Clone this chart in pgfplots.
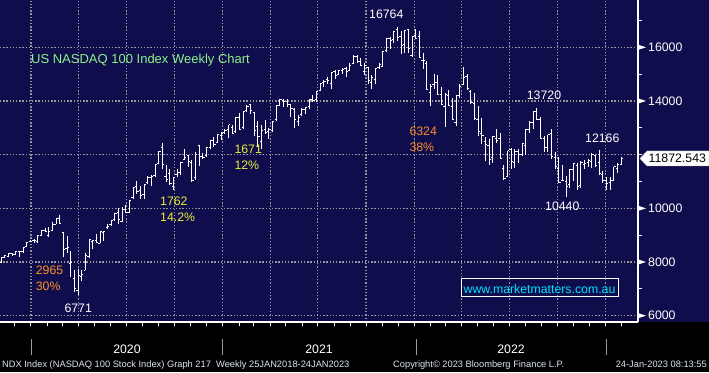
\documentclass[border=0pt]{standalone}
\usepackage{pgfplots}
\pgfplotsset{compat=1.18}
\usepackage{pgfplotstable}
\usepackage{fontspec}
\setmainfont{Liberation Sans}
\definecolor{bgnavy}{RGB}{15,13,75}
\definecolor{gridgray}{RGB}{150,150,155}
\definecolor{anngreen}{RGB}{140,240,140}
\definecolor{annorange}{RGB}{255,140,40}
\definecolor{annyellow}{RGB}{235,240,60}
\definecolor{anncyan}{RGB}{0,225,255}
\definecolor{foottext}{RGB}{220,228,240}
\newcommand\lblfont{\fontsize{12.3pt}{14pt}\selectfont}
\newcommand\titlefont{\fontsize{13pt}{15pt}\selectfont}
\newcommand\footfont{\fontsize{9.3pt}{11pt}\selectfont}
\pgfdeclareplotmark{otick}{\pgfpathmoveto{\pgfqpoint{-1.7pt}{0pt}}\pgfpathlineto{\pgfqpoint{0pt}{0pt}}\pgfusepathqstroke}
\pgfdeclareplotmark{ctick}{\pgfpathmoveto{\pgfqpoint{0pt}{0pt}}\pgfpathlineto{\pgfqpoint{1.7pt}{0pt}}\pgfusepathqstroke}
\pgfplotstableread{
i o h l c
-9 7980 8170 7950 8161
-8 8170 8260 8150 8228
-7 8210 8320 8190 8320
-6 8320 8345 8230 8273
-5 8290 8410 8280 8403
-4 8400 8420 8170 8399
-3 8390 8560 8350 8535
-2 8580 8740 8570 8730
-1 8750 8810 8740 8778
0 8790 8870 8700 8793
1 8750 8990 8710 8980
2 8990 9174 8970 9174
3 9190 9280 9100 9152
4 9000 9300 8950 9151
5 9160 9480 9140 9401
6 9410 9640 9400 9623
7 9620 9737 9420 9446
8 9100 9110 8200 8461
9 8500 8985 8330 8530
10 7960 8400 7430 7995
11 7400 7700 6900 7003
12 6950 7750 6771 7502
13 7450 7700 7300 7528
14 7700 8340 7690 8233
15 8200 8840 8150 8832
16 8780 8820 8490 8784
17 8800 9060 8700 8718
18 8700 9130 8690 9121
19 9100 9160 8800 9152
20 9300 9400 9230 9325
21 9400 9560 9360 9555
22 9570 9830 9530 9824
23 9830 10000 9420 9588
24 9520 10060 9500 9946
25 9950 10120 9840 9849
26 9860 10320 9840 10279
27 10420 10770 10350 10764
28 10800 11000 10520 10643
29 10680 10840 10350 10461
30 10500 10920 10330 10905
31 10950 11200 10900 11139
32 11150 11250 10840 11178
33 11230 11630 11180 11620
34 11660 12130 11650 12111
35 12250 12439 11450 11622
36 11200 11630 10980 11087
37 11300 11450 10880 10939
38 10800 11160 10677 11147
39 11250 11450 11150 11318
40 11350 11720 11250 11718
41 11820 12200 11790 11883
42 11950 12000 11550 11744
43 11720 11800 10990 11052
44 11150 12100 11060 12016
45 12350 12350 11580 11937
46 11940 12080 11830 11891
47 11950 12270 11920 12258
48 12280 12530 12200 12529
49 12530 12650 12300 12378
50 12440 12760 12420 12755
51 12700 12840 12560 12805
52 12840 12950 12760 12888
53 12920 13110 12620 13105
54 13000 13110 12780 12804
55 12880 13400 12820 13366
56 13400 13550 12900 12925
57 13000 13620 12960 13612
58 13640 13850 13600 13807
59 13850 13879 13500 13635
60 13560 13600 12700 12909
61 13050 13250 12300 12668
62 12500 13100 12208 12899
63 12950 13300 12780 12835
64 12850 13000 12600 12930
65 12900 13260 12850 13247
66 13300 13850 13270 13845
67 13830 14060 13800 14041
68 14000 14060 13770 13963
69 13980 14070 13780 13860
70 13860 13870 13400 13720
71 13700 13720 12980 13300
72 13250 13490 13080 13400
73 13500 13720 13450 13687
74 13700 13780 13520 13773
75 13780 14080 13700 14069
76 14060 14230 13960 14030
77 14050 14390 13960 14360
78 14380 14650 14370 14640
79 14680 14770 14530 14732
80 14800 14890 14650 14750
81 14650 15080 14440 15079
82 15100 15150 14820 14959
83 14990 15140 14950 15130
84 15150 15210 15020 15170
85 15200 15250 14890 15100
86 15150 15400 15130 15340
87 15380 15700 15370 15653
88 15660 15700 15400 15454
89 15480 15600 15300 15334
90 15100 15420 14950 15307
91 15250 15280 14620 14776
92 14700 14960 14450 14867
93 14800 15200 14620 15198
94 15250 15400 15200 15348
95 15300 15850 15300 15850
96 15870 16360 15830 16318
97 16330 16390 15950 16252
98 16280 16600 16150 16574
99 16650 16764 16250 16347
100 16400 16600 15750 16085
101 16100 16660 15800 16630
102 16650 16700 15800 15961
103 15700 16420 15630 16416
104 16450 16700 16300 16320
105 16400 16600 15600 15613
106 15500 15800 15200 15500
107 15400 15500 14420 14438
108 14300 14640 13800 14553
109 14600 15000 14450 14680
110 14700 14950 14230 14253
111 14250 14520 13850 13870
112 13800 14300 13020 14234
113 14200 14400 13800 13838
114 13800 14100 13300 13301
115 13200 14220 13050 14204
116 14200 14650 14100 14550
117 14600 15265 14600 14862
118 14900 15000 14400 14447
119 14350 14400 13900 13950
120 13900 14300 13300 13333
121 13300 13800 12700 12854
122 12800 13370 12400 12721
123 12500 12650 11750 12387
124 12350 12600 11600 11835
125 11900 12690 11700 12681
126 12600 12950 12450 12543
127 12600 12800 11840 11840
128 11500 11600 11040 11128
129 11200 12150 11150 12141
130 12200 12250 11450 11750
131 11700 12200 11500 12100
132 12100 12200 11700 12000
133 12000 12450 11950 12400
134 12350 12950 12000 12947
135 12950 13250 12800 13200
136 13200 13600 12950 13600
137 13620 13720 13300 13300
138 13300 13400 12600 12600
139 12600 12700 12100 12270
140 12250 12750 12100 12740
141 12800 12950 11850 11930
142 11900 12100 11450 11550
143 11500 11900 10950 10971
144 11050 11600 11000 11040
145 11000 11200 10440 10800
146 10900 11450 10750 11430
147 11450 11700 11000 11670
148 11600 11700 10700 10800
149 10850 11750 10750 11700
150 11650 11800 11450 11680
151 11700 11850 11550 11800
152 11750 12050 11500 12000
153 11950 11980 11550 11600
154 11700 12166 11250 11300
155 11250 11400 10950 11050
156 11050 11150 10700 10940
157 10950 11150 10700 11040
158 11050 11550 11000 11540
159 11500 11700 11300 11620
160 11650 11900 11600 11872
}\ndx
\begin{document}
\begin{tikzpicture}
\fill[black] (0pt,0pt) rectangle (709pt,372pt);
\fill[bgnavy] (0pt,50pt) rectangle (709pt,372pt);
\begin{axis}[
  at={(0pt,50pt)}, anchor=south west,
  scale only axis, width=638pt, height=322pt,
  xmin=-9.28, xmax=164.56, ymin=5765, ymax=17762,
  clip=false,
  axis x line*=bottom, axis y line*=right,
  axis line style={-, white, line width=1.2pt},
  xtick={-0.84,12.17,25.17,38.31,51.45,64.31,77.31,90.45,103.59,116.45,129.45,142.59,155.74},
  minor xtick={-5.26,3.59,7.74,16.45,20.88,29.59,34.02,42.74,47.02,55.88,59.88,68.59,73.02,81.74,86.17,94.88,99.17,108.02,112.02,120.74,125.17,133.88,138.31,147.02,151.31,160.17},
  ytick={6000,8000,10000,12000,14000,16000},
  minor ytick={7000,9000,11000,13000,15000,17000},
  xticklabels={}, yticklabels={},
  tick align=outside, major tick length=4pt, minor tick length=4pt,
  tick style={white, line width=1pt},
  grid=major,
  major grid style={gridgray, line width=1.1pt, dash pattern=on 1.3pt off 1.9pt},
]
\addplot[draw=none, mark=none,
  error bars/.cd, y dir=minus, y explicit, error mark=none,
  error bar style={draw=white, line width=1pt}]
  table[x=i, y=h, y error minus expr=\thisrow{h}-\thisrow{l}] {\ndx};
\addplot[white, only marks, mark=otick, mark options={line width=1pt}] table[x=i, y=o] {\ndx};
\addplot[white, only marks, mark=ctick, mark options={line width=1pt}] table[x=i, y=c] {\ndx};
\pgfplotsinvokeforeach{6000,8000,10000,14000,16000}{
  \fill[white] ([yshift=2.6pt]axis cs:164.56,#1) -- ([xshift=8pt]axis cs:164.56,#1) -- ([yshift=-2.6pt]axis cs:164.56,#1) -- cycle;
  \node[anchor=west, text=white, font=\lblfont, inner sep=0pt, xshift=10pt] at (axis cs:164.56,#1) {#1};
}
\end{axis}
% price tag
\filldraw[fill=white, draw=gray!60, line width=0.4pt] (640pt,213.5pt) -- (647pt,221pt) -- (709pt,221pt) -- (709pt,206pt) -- (647pt,206pt) -- cycle;
\node[anchor=west, inner sep=0pt, text=black, font=\lblfont] at (648.5pt,213.5pt) {11872.543};
% title and annotations
\node[anchor=base west, inner sep=0pt, text=anngreen, font=\titlefont] at (31pt,308.7pt) {US NASDAQ 100 Index Weekly Chart};
\node[anchor=base west, inner sep=0pt, text=white, font=\lblfont] at (369pt,353pt) {16764};
\node[anchor=base west, inner sep=0pt, text=white, font=\lblfont] at (526.7pt,272pt) {13720};
\node[anchor=base west, inner sep=0pt, text=white, font=\lblfont] at (585pt,229.3pt) {12166};
\node[anchor=base west, inner sep=0pt, text=white, font=\lblfont] at (545pt,161pt) {10440};
\node[anchor=base west, inner sep=0pt, text=white, font=\lblfont] at (64.3pt,59.7pt) {6771};
\node[anchor=base west, inner sep=0pt, text=annorange, font=\lblfont] at (35.7pt,97.7pt) {2965};
\node[anchor=base west, inner sep=0pt, text=annorange, font=\lblfont] at (35.7pt,81.3pt) {30\%};
\node[anchor=base west, inner sep=0pt, text=annorange, font=\lblfont] at (409.3pt,236pt) {6324};
\node[anchor=base west, inner sep=0pt, text=annorange, font=\lblfont] at (409.3pt,220.3pt) {38\%};
\node[anchor=base west, inner sep=0pt, text=annyellow, font=\lblfont] at (160pt,166.3pt) {1762};
\node[anchor=base west, inner sep=0pt, text=annyellow, font=\lblfont] at (160pt,150.3pt) {14.2\%};
\node[anchor=base west, inner sep=0pt, text=annyellow, font=\lblfont] at (234.3pt,218pt) {1671};
\node[anchor=base west, inner sep=0pt, text=annyellow, font=\lblfont] at (234.3pt,202pt) {12\%};
% website box
\draw[white, line width=1pt] (461pt,75pt) rectangle (618pt,93pt);
\node[anchor=base, inner sep=0pt, text=anncyan, font=\lblfont] at (539.5pt,78.7pt) {www.marketmatters.com.au};
% year separators and labels
\foreach \xx in {31,222,416.5,606} { \draw[gray!80, line width=1pt] (\xx pt,17pt) -- (\xx pt,33pt); }
\node[anchor=base, inner sep=0pt, text=white, font=\lblfont] at (127pt,18.7pt) {2020};
\node[anchor=base, inner sep=0pt, text=white, font=\lblfont] at (319pt,18.7pt) {2021};
\node[anchor=base, inner sep=0pt, text=white, font=\lblfont] at (511pt,18.7pt) {2022};
% footer
\node[anchor=base west, inner sep=0pt, text=foottext, font=\footfont] at (2pt,4.7pt) {NDX Index (NASDAQ 100 Stock Index) Graph 217\ \ Weekly 25JAN2018-24JAN2023};
\node[anchor=base west, inner sep=0pt, text=foottext, font=\footfont] at (393pt,4.7pt) {Copyright\textcopyright{} 2023 Bloomberg Finance L.P.};
\node[anchor=base east, inner sep=0pt, text=foottext, font=\footfont] at (707pt,4.7pt) {24-Jan-2023 08:13:55};
\pgfresetboundingbox
\useasboundingbox (0pt,0pt) rectangle (709pt,372pt);
\end{tikzpicture}
\end{document}
